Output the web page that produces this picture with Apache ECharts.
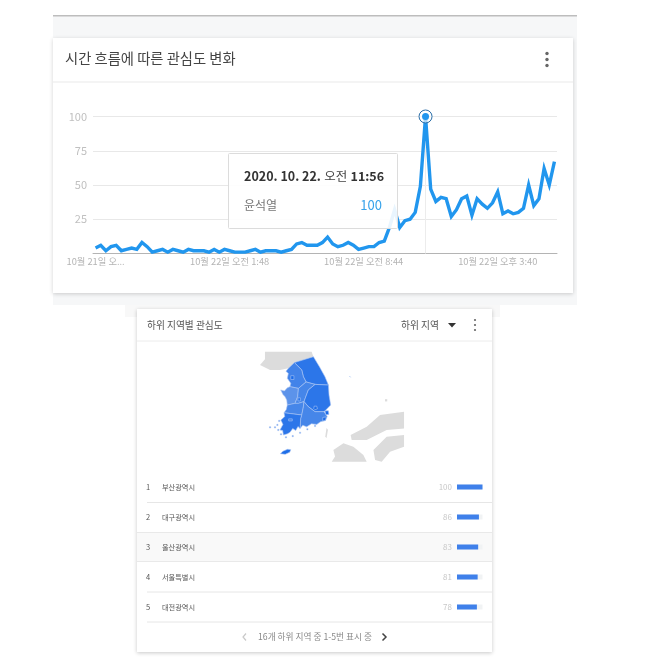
<!DOCTYPE html>
<html><head><meta charset="utf-8">
<style>html,body{margin:0;padding:0;background:#fff}#c{width:650px;height:668px;filter:blur(0.35px)}</style>
<script src="https://cdn.jsdelivr.net/npm/echarts@6/dist/echarts.min.js"></script>
</head><body><div id="c"></div>
<script>
const FONT = '"Noto Sans CJK KR","Noto Sans",sans-serif';
const interest = [4,6,2,5,6,2,3,4,3,8,5,1,2,3,1,3,2,1,3,2,2,2,1,3,1,3,2,1,1,1,2,3,1,2,2,2,1,2,3,7,8,6,6,6,8,12,7,5,6,8,6,3,4,5,5,8,9,19,32,19,24,25,30,49,100,47,38,41,40,27,32,40,42,28,40,36,33,37,45,29,31,29,30,33,50,35,40,62,50,67];
const tickLabels = {0:'10월 21일 오...',26:'10월 22일 오전 1:48',52:'10월 22일 오전 8:44',78:'10월 22일 오후 3:40'};
const peakIndex = 64;
const regionNames = ['부산광역시','대구광역시','울산광역시','서울특별시','대전광역시'];
const regionValues = [100,86,83,81,78];
const provinceValues = {'강원도':72,'경상북도':72,'전라남도':72,'경기도':62,'충청북도':60,'경상남도':60,'전라북도':60,'충청남도':50,'광주광역시':62,'제주도':78,'울릉':60,'도서':55};
const greyAreas = ['북한','혼슈','시코쿠','규슈','산둥','오키','쓰시마'];
const outlines = {
 '북한':[[125.10,39.08],[128.21,39.08],[128.33,38.79],[127.06,38.45],[126.66,38.12],[126.10,38.03],[125.44,38.03],[124.77,38.31],[125.10,38.64]],
 '혼슈':[[134.37,35.63],[134.37,34.67],[133.21,34.58],[131.88,34.0],[130.88,34.0],[130.81,34.29],[131.88,34.77],[132.77,35.44]],
 '시코쿠':[[134.37,34.29],[134.37,33.62],[133.44,33.33],[132.88,32.76],[132.44,32.85],[132.33,33.43],[133.21,34.19]],
 '규슈':[[129.66,33.43],[130.33,33.81],[130.99,33.62],[131.66,33.14],[131.88,32.76],[129.55,32.76],[129.77,33.05]],
 '산둥':[[122.42,37.5],[122.47,37.5],[122.47,37.3],[122.42,37.3]],
 '오키':[[133.1,36.35],[133.25,36.35],[133.25,36.22],[133.1,36.22]],
 '쓰시마':[[129.2,34.7],[129.3,34.6],[129.2,34.1],[129.12,34.2]],
 '강원도':[[127.06,38.45],[128.33,38.79],[128.73,38.22],[129.10,37.64],[129.33,37.16],[128.44,37.2],[127.84,37.34],[127.66,37.64],[127.55,38.03]],
 '경기도':[[127.06,38.45],[127.55,38.03],[127.66,37.64],[127.84,37.34],[127.33,36.97],[126.77,37.07],[126.82,37.26],[126.59,37.55],[126.66,37.83],[126.5,37.95],[126.66,38.12]],
 '충청남도':[[126.15,36.88],[126.4,36.82],[126.59,37.0],[126.77,37.07],[127.33,36.97],[127.28,36.49],[127.10,36.11],[126.59,36.01],[126.55,36.3],[126.44,36.49],[126.3,36.62]],
 '충청북도':[[127.33,36.97],[127.84,37.34],[128.44,37.2],[127.99,36.88],[127.70,36.21],[127.33,36.11],[127.10,36.11],[127.28,36.49]],
 '경상북도':[[128.44,37.2],[129.33,37.16],[129.37,36.59],[129.48,36.01],[129.04,35.63],[128.44,35.63],[127.99,35.92],[127.70,36.21],[127.99,36.88]],
 '전라북도':[[126.59,36.01],[127.10,36.11],[127.33,36.11],[127.70,36.21],[127.66,35.9],[127.55,35.44],[126.37,35.57],[126.52,35.75]],
 '경상남도':[[127.70,36.21],[127.99,35.92],[128.44,35.63],[129.04,35.63],[129.25,35.35],[129.12,35.12],[128.8,35.05],[128.55,34.9],[128.2,34.94],[127.88,34.76],[127.62,34.85],[127.44,34.67],[127.48,35.25],[127.55,35.44],[127.66,35.9]],
 '전라남도':[[126.37,35.57],[127.55,35.44],[127.48,35.25],[127.44,34.67],[127.3,34.78],[127.15,34.55],[126.95,34.66],[126.77,34.45],[126.6,34.36],[126.33,34.29],[126.28,34.55],[126.1,34.58],[126.3,34.9],[126.16,35.15],[126.42,35.35]],
 '대구광역시':[[128.38,35.95],[128.55,35.95],[128.6,35.8],[128.44,35.74],[128.35,35.82]],
 '부산광역시':[[128.95,35.3],[129.19,35.33],[129.14,35.14],[128.95,35.1]],
 '울산광역시':[[129.1,35.68],[129.33,35.68],[129.36,35.47],[129.15,35.45]],
 '대전광역시':[[127.3,36.43],[127.46,36.43],[127.46,36.25],[127.3,36.25]],
 '광주광역시':[[126.68,35.22],[126.92,35.22],[126.92,35.1],[126.68,35.1]],
 '서울특별시':[[126.82,37.7],[127.03,37.7],[127.03,37.48],[126.82,37.48]],
 '제주도':[[126.13,33.22],[126.3,33.36],[126.6,33.47],[126.82,33.45],[126.75,33.3],[126.45,33.18]],
 '울릉':[[130.74,37.67],[130.8,37.67],[130.8,37.61],[130.74,37.61]]
};
const islandSpots = [[125.44,34.73],[125.77,34.73],[125.93,34.87],[125.99,34.58],[126.17,34.33],[126.5,34.16],[126.95,34.23],[127.44,34.42],[127.93,34.62],[128.44,34.81],[126.05,35.1]];

const square = ([lon,lat]) => [[lon-.04,lat+.035],[lon+.04,lat+.035],[lon+.04,lat-.035],[lon-.04,lat-.035],[lon-.04,lat+.035]];
const koreaGeo = {type:'FeatureCollection',features:Object.keys(outlines).map(n=>({
  type:'Feature',properties:{name:n},geometry:{type:'Polygon',coordinates:[outlines[n].concat([outlines[n][0]])]}
})).concat([{type:'Feature',properties:{name:'도서'},geometry:{type:'MultiPolygon',coordinates:islandSpots.map(s=>[square(s)])}}])};
echarts.registerMap('korea',koreaGeo);

const categories = interest.map((_,i)=>tickLabels[i]||'');
const mapData = [];
regionNames.forEach((n,i)=>mapData.push({name:n,value:regionValues[i]}));
Object.keys(provinceValues).forEach(n=>mapData.push({name:n,value:provinceValues[n]}));

const txt=(x,y,text,font,color,extra)=>Object.assign({type:'text',z:5,x,y,style:Object.assign({text,fill:color,font:font+' '+FONT,textVerticalAlign:'middle'},extra||{})});
const rect=(x,y,w,h,fill,extra)=>({type:'rect',z:-10,shape:{x,y,width:w,height:h},style:Object.assign({fill},extra||{})});
const dots=(x,ys,r,c)=>ys.map(y=>({type:'circle',z:5,shape:{cx:x,cy:y,r},style:{fill:c}}));
const rule=(x1,x2,y,c)=>({type:'line',z:-5,shape:{x1,y1:y,x2,y2:y},style:{stroke:c,lineWidth:1}});

const elements=[
 rect(53,16,524,289,'#f6f7f8',{z:-20}),
 rect(53,15,524,1.5,'#bdbdbd'),
 rect(125,305,375,12,'#f8f8f8'),
 rect(53,38,520,255,'#ffffff',{shadowBlur:4,shadowColor:'rgba(0,0,0,0.18)',shadowOffsetY:1}),
 rule(53,573,82,'#e9e9e9'),
 txt(65,59,'시간 흐름에 따른 관심도 변화','14.3px','#444444'),
 ...dots(547,[53.5,59.5,65.5],1.7,'#666666'),
 rect(137,309,355,343,'#ffffff',{shadowBlur:4,shadowColor:'rgba(0,0,0,0.22)',shadowOffsetY:1}),
 rule(137,492,341,'#ececec'),
 txt(147,325,'하위 지역별 관심도','9.7px','#555555'),
 txt(401,325,'하위 지역','9.7px','#555555'),
 {type:'polygon',z:5,shape:{points:[[448,323],[456,323],[452,327.5]]},style:{fill:'#333333'}},
 ...dots(475,[320,325,330],1.1,'#666666'),
 rect(137,532,355,30,'#f9f9f9',{z:-4}),
 rule(147,492,502.5,'#e6e6e6'),rule(137,492,532.5,'#e9e9e9'),rule(137,492,561.5,'#e9e9e9'),rule(147,492,592,'#e6e6e6'),rule(147,492,622,'#e6e6e6'),
 txt(258,637,'16개 하위 지역 중 1-5번 표시 중','8.7px','#888888'),
 {type:'polyline',z:5,shape:{points:[[246,633.5],[243,637],[246,640.5]]},style:{stroke:'#c9c9c9',lineWidth:1.2,fill:null}},
 {type:'polyline',z:5,shape:{points:[[382.5,633.5],[386,637],[382.5,640.5]]},style:{stroke:'#444444',lineWidth:1.5,fill:null}},
 {type:'rect',z:100,shape:{x:228.5,y:153.5,width:169,height:75,r:1},style:{fill:'rgba(255,255,255,0.9)',stroke:'#dcdcdc',lineWidth:1}},
 {type:'text',z:101,x:244,y:176,style:{rich:{b:{font:'600 12.5px '+FONT,fill:'#333333'},n:{font:'12.5px '+FONT,fill:'#444444'}},text:'{b|2020. 10. 22.} {n|오전} {b|11:56}',textVerticalAlign:'middle'}},
 {type:'text',z:101,x:244,y:205,style:{text:'윤석열',font:'12px '+FONT,fill:'#777777',textVerticalAlign:'middle'}},
 {type:'text',z:101,x:382,y:205,style:{text:'100',font:'13px '+FONT,fill:'#36a2ea',textAlign:'right',textVerticalAlign:'middle'}}
];

const option={
 animation:false,
 backgroundColor:'#ffffff',
 textStyle:{fontFamily:FONT},
 graphic:[{elements}],
 grid:[
  {left:93,right:93,top:116.5,height:137},
  {left:457,width:25.5,top:472,height:150}
 ],
 xAxis:[
  {gridIndex:0,type:'category',data:categories,boundaryGap:true,
   axisLine:{lineStyle:{color:'#b4b4b4',width:1}},axisTick:{show:false},
   axisLabel:{color:'#b4b4b4',fontSize:9.3,margin:3,hideOverlap:false,interval:(i)=>tickLabels[i]!==undefined}},
  {gridIndex:1,type:'value',min:0,max:100,show:false}
 ],
 yAxis:[
  {gridIndex:0,type:'value',min:0,max:100,interval:25,
   axisLine:{show:false},axisTick:{show:false},
   splitLine:{lineStyle:{color:'#e8e8e8',width:1}},
   axisLabel:{color:'#c0c0c0',fontSize:11,margin:6,formatter:v=>v===0?'':String(v)}},
  {gridIndex:1,type:'category',inverse:true,data:regionNames,
   axisLine:{show:false},axisTick:{show:false},
   axisLabel:{margin:311,align:'left',formatter:(v,i)=>'{r|'+(i+1)+'}{n|'+v+'}',
    rich:{r:{width:16,fontSize:7.5,color:'#555555'},n:{fontSize:7.2,color:'#555555'}}}}
 ],
 visualMap:{show:false,seriesIndex:2,min:50,max:80,inRange:{color:['#5c93ea','#1a6be8']}},
 series:[
  {type:'line',xAxisIndex:0,yAxisIndex:0,data:interest,smooth:false,showSymbol:false,symbol:'none',
   lineStyle:{color:'#2196ee',width:3.4,join:'miter'},itemStyle:{color:'#2196ee'},silent:true,z:3,
   markLine:{silent:true,symbol:'none',label:{show:false},lineStyle:{color:'#ececec',width:1,type:'solid'},data:[{xAxis:peakIndex}],z:1},
   markPoint:{silent:true,animation:false,label:{show:false},data:[
     {coord:[peakIndex,100],symbol:'circle',symbolSize:13,itemStyle:{color:'rgba(255,255,255,0.6)',borderColor:'#2a6ea8',borderWidth:1}},
     {coord:[peakIndex,100],symbol:'circle',symbolSize:7,itemStyle:{color:'#2196ee'}}
   ]}},
  {type:'bar',xAxisIndex:1,yAxisIndex:1,data:regionValues,barWidth:5,silent:true,
   showBackground:true,backgroundStyle:{color:'#f1f3f4'},itemStyle:{color:'#3f80ea'},
   label:{show:true,position:'left',distance:5,fontSize:8,color:'#c8c8c8'}},
  {type:'map',map:'korea',silent:true,roam:false,left:200,top:340,width:230,height:130,
   aspectScale:15.33/17.4,boundingCoords:[[120.77,39.75],[136.1,32.28]],
   label:{show:false},emphasis:{disabled:true},select:{disabled:true},
   itemStyle:{areaColor:'#dcdcdc',borderColor:'#a9c5f3',borderWidth:0.6},
   data:mapData.concat(greyAreas.map(n=>({name:n,value:null,itemStyle:{areaColor:'#dcdcdc',borderColor:'#dcdcdc',borderWidth:0}})))}
 ]
};
echarts.init(document.getElementById('c')).setOption(option);
</script></body></html>
